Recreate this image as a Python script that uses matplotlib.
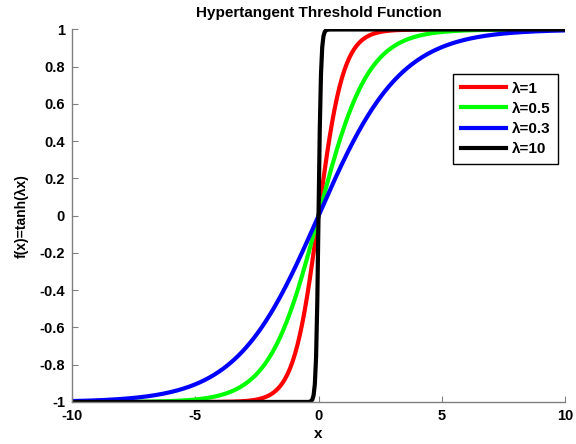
import numpy as np
import matplotlib.pyplot as plt

# Curve parameters (lambda values) and styles
lambdas = [1, 0.5, 0.3, 10]
labels = ["λ=1", "λ=0.5", "λ=0.3", "λ=10"]
colors = ["#ff0000", "#00ff00", "#0000ff", "#000000"]

x_ticks = [-10, -5, 0, 5, 10]
y_ticks = [-1, -0.8, -0.6, -0.4, -0.2, 0, 0.2, 0.4, 0.6, 0.8, 1]
y_tick_labels = ["-1", "-0.8", "-0.6", "-0.4", "-0.2", "0", "0.2", "0.4", "0.6", "0.8", "1"]
x_tick_labels = ["-10", "-5", "0", "5", "10"]

plt.rcParams["font.family"] = ["Liberation Sans", "DejaVu Sans"]
plt.rcParams["font.weight"] = "bold"
plt.rcParams["axes.unicode_minus"] = False

x = np.linspace(-10, 10, 401)

fig = plt.figure(figsize=(5.76, 4.44), dpi=100)
ax = fig.add_axes([0.125, 0.0946, 0.856, 0.839])

for lam, lab, col in zip(lambdas, labels, colors):
    ax.plot(x, np.tanh(lam * x), color=col, linewidth=3, label=lab)

ax.set_xlim(-10, 10)
ax.set_ylim(-1, 1)
ax.set_xticks(x_ticks)
ax.set_xticklabels(x_tick_labels)
ax.set_yticks(y_ticks)
ax.set_yticklabels(y_tick_labels)
ax.tick_params(direction="in", length=4, width=0.8, color="#808080",
               labelsize=10.5)
ax.tick_params(axis="x", pad=5)
ax.tick_params(axis="y", pad=5)
for t in ax.get_xticklabels() + ax.get_yticklabels():
    t.set_fontweight("bold")

for side in ["top", "right"]:
    ax.spines[side].set_visible(False)
for side in ["left", "bottom"]:
    ax.spines[side].set_color("#808080")
    ax.spines[side].set_linewidth(1.0)

ax.set_xlabel("x", fontsize=11, fontweight="bold", labelpad=3)
ax.set_ylabel("f(x)=tanh(λx)", fontsize=10, fontweight="bold", labelpad=8)
ax.set_title("Hypertangent Threshold Function", fontsize=11, fontweight="bold", pad=9)

leg = ax.legend(loc="upper right", bbox_to_anchor=(558 / 576, 1 - 74 / 444),
                bbox_transform=fig.transFigure, fancybox=False, framealpha=1,
                edgecolor="black", fontsize=11, handlelength=3.0,
                borderpad=0.5, labelspacing=0.4, handletextpad=0.35,
                borderaxespad=0.0)
leg.get_frame().set_linewidth(1.0)
for t in leg.get_texts():
    t.set_fontweight("bold")

fig.savefig("out.png", dpi=100)
